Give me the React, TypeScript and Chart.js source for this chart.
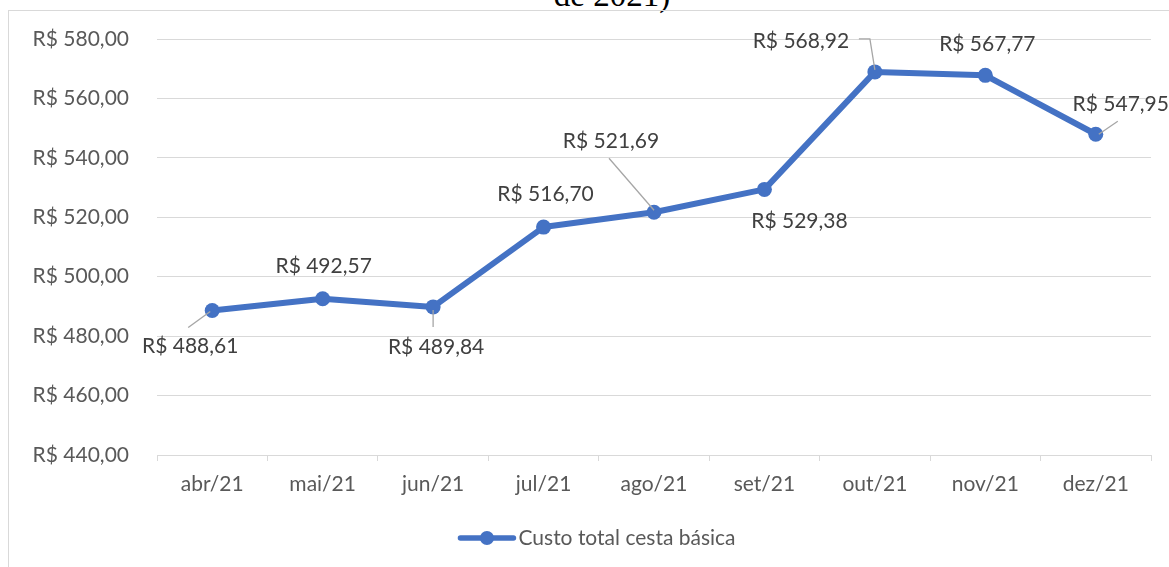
import React, { useEffect, useRef } from "react";
import { Chart, registerables } from "chart.js";

Chart.register(...registerables);

const categories = ["abr/21", "mai/21", "jun/21", "jul/21", "ago/21", "set/21", "out/21", "nov/21", "dez/21"];
const custoTotal = [488.61, 492.57, 489.84, 516.7, 521.69, 529.38, 568.92, 567.77, 547.95];
const yMin = 440;
const yMax = 580;
const yStep = 20;
const seriesName = "Custo total cesta básica";
const titleTail = "de 2021)";

// label placement (style only): offset of label centre from the point, and leader line points
const labelPlacement = [
  { dx: -22, dy: 36, leader: [[-24, 17], [-2, 1]] },
  { dx: 1, dy: -33, leader: null },
  { dx: 3, dy: 40, leader: [[0, 3], [0, 20]] },
  { dx: 2, dy: -33, leader: null },
  { dx: -43, dy: -71, leader: [[-45, -54], [0, -2]] },
  { dx: 35, dy: 32, leader: null },
  { dx: -74, dy: -31, leader: [[-16, -33], [-5, -33], [0, -2]] },
  { dx: 2, dy: -31, leader: null },
  { dx: 25, dy: -30, leader: [[22, -13], [3, 0]] },
];

const BLUE = "#4472C4";
const FONT = "Lato";
const fmt = (v: number) => "R$ " + v.toFixed(2).replace(".", ",");

const dataLabelPlugin = {
  id: "dataLabelsCustom",
  afterDatasetsDraw(chart: any) {
    const ctx = chart.ctx;
    const meta = chart.getDatasetMeta(0);
    ctx.save();
    meta.data.forEach((pt: any, i: number) => {
      const p = labelPlacement[i];
      if (!p) return;
      if (p.leader) {
        ctx.beginPath();
        ctx.strokeStyle = "#a6a6a6";
        ctx.lineWidth = 1.3;
        p.leader.forEach((l: number[], k: number) => {
          if (k === 0) ctx.moveTo(pt.x + l[0], pt.y + l[1]);
          else ctx.lineTo(pt.x + l[0], pt.y + l[1]);
        });
        ctx.stroke();
      }
      ctx.font = `21px ${FONT}`;
      ctx.fillStyle = "#404040";
      ctx.textAlign = "center";
      ctx.textBaseline = "middle";
      ctx.fillText(fmt(custoTotal[i]), pt.x + p.dx, pt.y + p.dy);
    });
    ctx.restore();
  },
};

const legendPlugin = {
  id: "legendCustom",
  afterDraw(chart: any) {
    const ctx = chart.ctx;
    ctx.save();
    ctx.font = `21px ${FONT}`;
    const w = ctx.measureText(seriesName).width;
    const lineLen = 57;
    const total = lineLen + 3 + w;
    const cx = 588;
    const y = 527;
    const x0 = cx - total / 2;
    ctx.strokeStyle = BLUE;
    ctx.lineWidth = 5.5;
    ctx.lineCap = "round";
    ctx.beginPath();
    ctx.moveTo(x0 + 2, y);
    ctx.lineTo(x0 + lineLen - 2, y);
    ctx.stroke();
    ctx.fillStyle = BLUE;
    ctx.beginPath();
    ctx.arc(x0 + lineLen / 2, y, 7, 0, Math.PI * 2);
    ctx.fill();
    ctx.fillStyle = "#595959";
    ctx.textAlign = "left";
    ctx.textBaseline = "middle";
    ctx.fillText(seriesName, x0 + lineLen + 3, y);
    ctx.restore();
  },
};

export default function App() {
  const ref = useRef<HTMLCanvasElement | null>(null);
  useEffect(() => {
    if (!ref.current) return;
    Chart.defaults.font.family = FONT;
    const chart = new Chart(ref.current, {
      type: "line",
      data: {
        labels: categories,
        datasets: [
          {
            label: seriesName,
            data: custoTotal,
            borderColor: BLUE,
            backgroundColor: BLUE,
            borderWidth: 6,
            pointRadius: 7.5,
            pointHoverRadius: 7.5,
            pointBackgroundColor: BLUE,
            pointBorderWidth: 0,
            tension: 0,
            borderJoinStyle: "round",
            borderCapStyle: "round",
          },
        ],
      },
      options: {
        animation: false,
        responsive: false,
        maintainAspectRatio: false,
        layout: { padding: { left: 0, right: 18, top: 28, bottom: 62 } },
        plugins: {
          legend: { display: false },
          tooltip: { enabled: false },
          title: { display: false },
        },
        scales: {
          x: {
            type: "category",
            offset: true,
            grid: {
              offset: true,
              drawOnChartArea: false,
              drawTicks: true,
              tickLength: 6,
              color: "#d9d9d9",
              lineWidth: 1,
            },
            border: { display: true, color: "#d9d9d9", width: 1 },
            ticks: {
              color: "#595959",
              font: { family: FONT, size: 21 },
              padding: 11,
              maxRotation: 0,
              autoSkip: false,
            },
            afterFit: (s: any) => {
              s.height = 50;
            },
          },
          y: {
            min: yMin,
            max: yMax,
            ticks: {
              stepSize: yStep,
              color: "#595959",
              font: { family: FONT, size: 21 },
              padding: 28,
              callback: (v: any) => fmt(Number(v)),
            },
            grid: { color: "#d9d9d9", lineWidth: 1, drawTicks: false },
            border: { display: false },
            afterFit: (s: any) => {
              s.width = 148;
              s.paddingTop = 0;
              s.paddingBottom = 0;
            },
          },
        },
      },
      plugins: [dataLabelPlugin, legendPlugin],
    } as any);
    return () => chart.destroy();
  }, []);

  return (
    <div style={{ position: "absolute", left: 0, top: 0, width: 1169, height: 567, overflow: "hidden", background: "#fff" }}>
      <div
        style={{
          position: "absolute",
          left: 612,
          top: -21,
          transform: "translateX(-50%)",
          fontFamily: "'Liberation Serif', 'Times New Roman', serif",
          fontSize: 33,
          lineHeight: "33px",
          color: "#000",
          whiteSpace: "nowrap",
        }}
      >
        {titleTail}
      </div>
      <div
        style={{
          position: "absolute",
          left: 8,
          top: 10,
          width: 1200,
          height: 600,
          borderLeft: "1px solid #d9d9d9",
          borderTop: "1px solid #d9d9d9",
        }}
      >
        <canvas ref={ref} width={1160} height={556} style={{ position: "absolute", left: 0, top: 0, width: 1160, height: 556 }} />
      </div>
    </div>
  );
}
